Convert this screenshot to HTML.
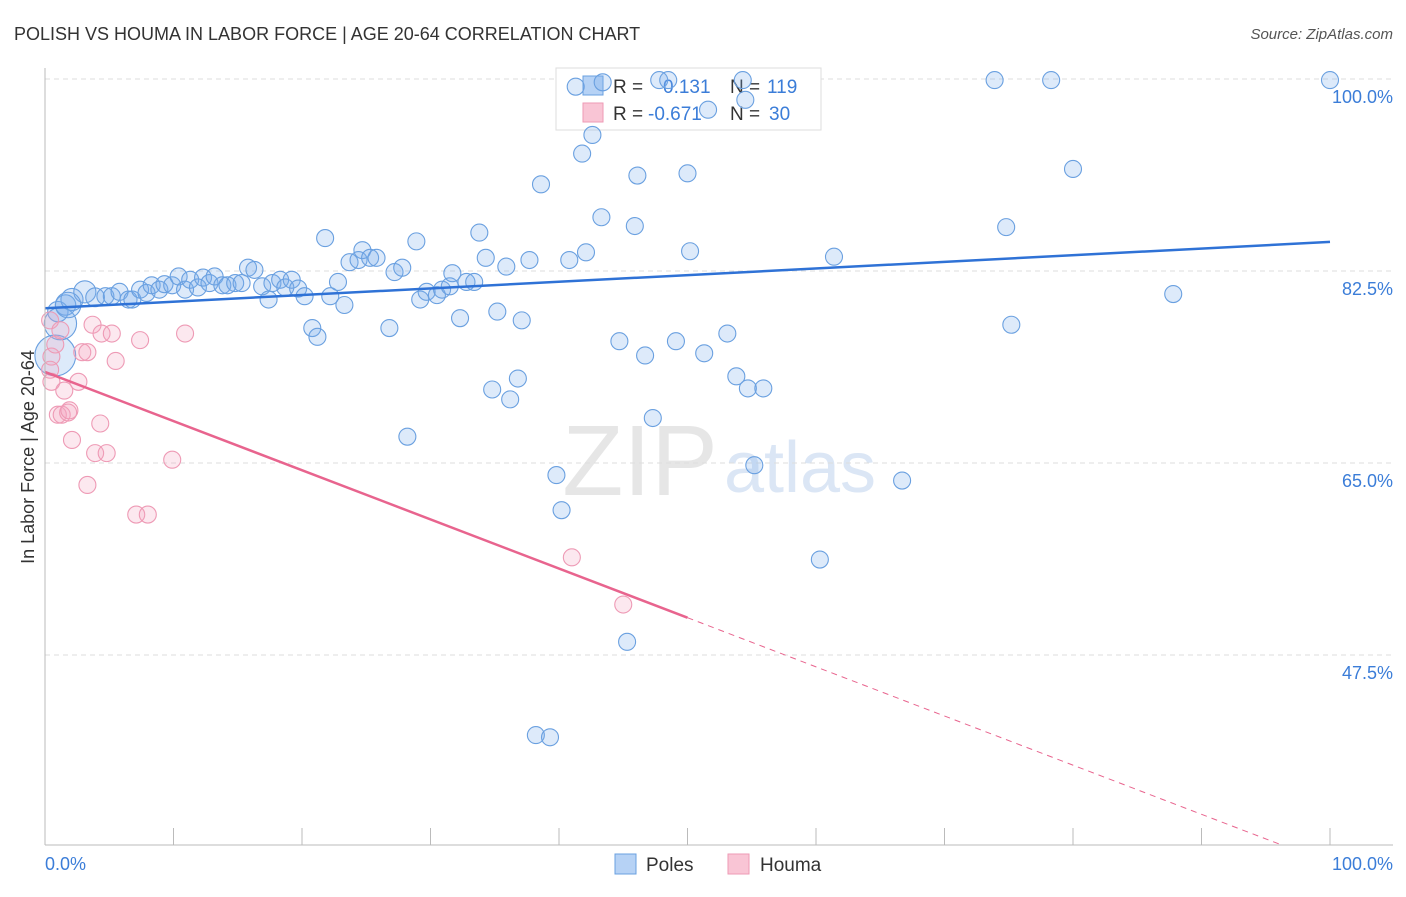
<!DOCTYPE html>
<html><head><meta charset="utf-8"><style>
body{margin:0;background:#fff;font-family:"Liberation Sans",sans-serif}
svg text{font-family:"Liberation Sans",sans-serif}
</style></head><body>
<svg id="c" width="1406" height="892">
<text x="14" y="40" font-size="18" fill="#333">POLISH VS HOUMA IN LABOR FORCE | AGE 20-64 CORRELATION CHART</text>
<text x="1393" y="39" font-size="15" fill="#555" text-anchor="end" font-style="italic">Source: ZipAtlas.com</text>
<text x="0" y="0" font-size="18" fill="#333" text-anchor="middle" transform="translate(34,457) rotate(-90)">In Labor Force | Age 20-64</text>
<text x="640" y="495" font-size="100" fill="#e6e6e6" font-family="Liberation Serif" text-anchor="middle">ZIP</text>
<text x="800" y="492" font-size="72" fill="#dbe6f5" text-anchor="middle">atlas</text>
<g id="grid"></g>
<g>
<rect x="556" y="68" width="265" height="62" fill="#fff" stroke="#ddd"/>
<rect x="583" y="76" width="20" height="19" fill="#b6d2f5" stroke="#6aa0e0"/>
<rect x="583" y="103" width="20" height="19" fill="#f9c5d5" stroke="#ee9ab5"/>
<text x="613" y="93" font-size="19" fill="#333">R =</text><text x="663" y="93" font-size="19" fill="#3b7dd8">0.131</text>
<text x="730" y="93" font-size="19" fill="#333">N =</text><text x="767" y="93" font-size="19" fill="#3b7dd8">119</text>
<text x="613" y="120" font-size="19" fill="#333">R =</text><text x="648" y="120" font-size="19" fill="#3b7dd8">-0.671</text>
<text x="730" y="120" font-size="19" fill="#333">N =</text><text x="769" y="120" font-size="19" fill="#3b7dd8">30</text>
</g>
<g id="pts"></g><g id="lines"></g>
<line x1="45" y1="68" x2="45" y2="845" stroke="#bbb"/>
<line x1="45" y1="845" x2="1393" y2="845" stroke="#bbb"/>
<text x="45" y="870" font-size="18" fill="#3b7dd8">0.0%</text>
<text x="1393" y="870" font-size="18" fill="#3b7dd8" text-anchor="end">100.0%</text>
<g>
<rect x="615" y="854" width="21" height="20" fill="#b6d2f5" stroke="#6aa0e0"/><text x="646" y="871" font-size="19" fill="#333">Poles</text>
<rect x="728" y="854" width="21" height="20" fill="#f9c5d5" stroke="#ee9ab5"/><text x="760" y="871" font-size="19" fill="#333">Houma</text>
</g>
</svg>
<script>
const yTicks=[100,82.5,65,47.5];
const yTickLabels=["100.0%","82.5%","65.0%","47.5%"];
const polesX=[1.0,1.6,2.1,3.1,3.9,4.7,5.2,5.8,6.5,6.8,7.4,7.9,8.3,8.9,9.3,9.9,10.4,10.9,11.3,11.9,12.3,12.8,13.2,13.8,14.2,14.8,15.3,15.8,16.3,16.9,17.4,17.7,18.3,18.7,19.2,19.7,20.2,20.8,21.2,21.8,22.2,22.8,23.3,23.7,24.4,24.7,25.3,25.8,26.8,27.2,27.8,28.2,28.9,29.2,29.7,30.5,30.9,31.5,31.7,32.3,32.8,33.4,33.8,34.3,34.8,35.2,35.9,36.2,36.8,37.1,37.7,38.6,38.2,39.3,39.8,40.2,40.8,41.8,42.1,42.6,43.3,44.7,45.3,45.9,46.1,46.7,47.3,47.8,48.5,49.1,50.0,50.2,51.3,51.6,53.1,53.8,54.3,54.7,55.2,55.9,60.3,61.4,66.7,73.9,74.8,75.2,78.3,80.0,87.8,100,41.3,43.4,54.5,0.8,1.2,1.8];
const polesY=[78.8,79.4,79.9,80.6,80.1,80.2,80.2,80.6,79.9,79.9,80.8,80.5,81.2,80.8,81.3,81.2,82.0,80.8,81.7,81.0,81.9,81.4,82.0,81.2,81.2,81.4,81.4,82.8,82.6,81.1,79.9,81.4,81.7,81.0,81.7,80.9,80.2,77.3,76.5,85.5,80.2,81.5,79.4,83.3,83.5,84.4,83.7,83.7,77.3,82.4,82.8,67.4,85.2,79.9,80.6,80.3,80.8,81.1,82.3,78.2,81.5,81.5,86.0,83.7,71.7,78.8,82.9,70.8,72.7,78.0,83.5,90.4,40.2,40.0,63.9,60.7,83.5,93.2,84.2,94.9,87.4,76.1,48.7,86.6,91.2,74.8,69.1,99.9,99.9,76.1,91.4,84.3,75.0,97.2,76.8,72.9,99.9,71.8,64.8,71.8,56.2,83.8,63.4,99.9,86.5,77.6,99.9,91.8,80.4,99.9,99.3,99.7,98.1,74.8,77.7,79.4];
const polesSize=[1.2,1.2,1.3,1.3,1.1,1,1,1,1,1,1,1,1,1,1,1,1,1,1,1,1,1,1,1,1,1,1,1,1,1,1,1,1,1,1,1,1,1,1,1,1,1,1,1,1,1,1,1,1,1,1,1,1,1,1,1,1,1,1,1,1,1,1,1,1,1,1,1,1,1,1,1,1,1,1,1,1,1,1,1,1,1,1,1,1,1,1,1,1,1,1,1,1,1,1,1,1,1,1,1,1,1,1,1,1,1,1,1,1,1,1,1,1,2.4,1.9,1.5];
const houmaX=[0.4,0.5,0.4,0.5,1.0,1.3,1.5,1.8,1.9,2.1,2.6,2.9,3.3,3.3,3.7,3.9,4.3,4.4,4.8,5.2,5.5,7.1,8.0,7.4,9.9,10.9,41.0,45.0,0.8,1.2];
const houmaY=[78.0,74.7,73.5,72.4,69.4,69.4,71.6,69.6,69.8,67.1,72.4,75.1,75.1,63.0,77.6,65.9,68.6,76.8,65.9,76.8,74.3,60.3,60.3,76.2,65.3,76.8,56.4,52.1,75.8,77.1];
const polesTrend=[79.1,85.15];
const houmaTrend=[73.3,28.5];
const houmaSolidEnd=50;
const NS="http://www.w3.org/2000/svg";
const sx=v=>45+v*12.85;
const sy=v=>79+(100-v)/17.5*192;
function mk(t,a,p){const e=document.createElementNS(NS,t);for(const k in a)e.setAttribute(k,a[k]);p.appendChild(e);return e;}
const grid=document.getElementById('grid');
yTicks.forEach((t,i)=>{
 const l=mk('line',{x1:45,x2:1393,y1:sy(t),y2:sy(t),stroke:'#ddd','stroke-dasharray':'5,4'},grid);
 
 
 const tx=mk('text',{x:1393,y:sy(t)+24,'font-size':18,fill:'#3b7dd8','text-anchor':'end'},grid);
 tx.textContent=yTickLabels[i];
 
 
});
for(let i=0;i<=10;i++){
 const tk=mk('line',{x1:sx(i*10),x2:sx(i*10),y1:828,y2:845,stroke:'#bbb'},grid);
 
 
}
const pts=document.getElementById('pts');
polesX.forEach((x,i)=>{
 const c=mk('circle',{cx:sx(x),cy:sy(polesY[i]),r:8.5*polesSize[i],fill:'rgba(120,170,235,0.25)',stroke:'#6aa0e0','stroke-width':1.1},pts);
 
 
});
houmaX.forEach((x,i)=>{
 const c=mk('circle',{cx:sx(x),cy:sy(houmaY[i]),r:8.5,fill:'rgba(245,165,190,0.25)',stroke:'#ee9ab5','stroke-width':1.1},pts);
 
 
});
const lines=document.getElementById('lines');
const bl=mk('line',{x1:sx(0),y1:sy(polesTrend[0]),x2:sx(100),y2:sy(polesTrend[1]),stroke:'#2f72d6','stroke-width':2.5},lines);


const hy=x=>houmaTrend[0]+(houmaTrend[1]-houmaTrend[0])*x/100;
const pl=mk('line',{x1:sx(0),y1:sy(hy(0)),x2:sx(houmaSolidEnd),y2:sy(hy(houmaSolidEnd)),stroke:'#e8648e','stroke-width':2.5},lines);


const xEnd=(30.2-houmaTrend[0])/(houmaTrend[1]-houmaTrend[0])*100;
const pd=mk('line',{x1:sx(houmaSolidEnd),y1:sy(hy(houmaSolidEnd)),x2:sx(xEnd),y2:sy(hy(xEnd)),stroke:'#e8648e','stroke-width':1,'stroke-dasharray':'6,5'},lines);


</script>
</body></html>
